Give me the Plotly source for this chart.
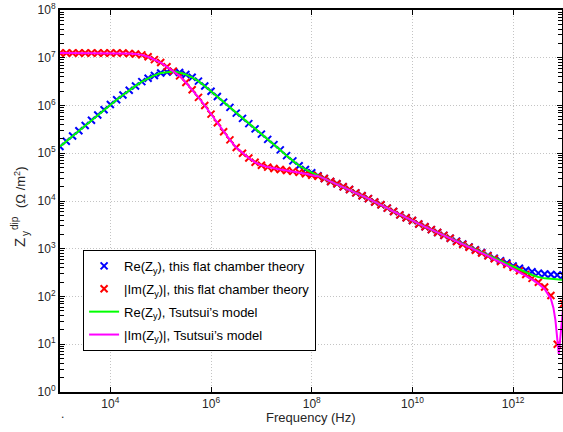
import numpy as np
import plotly.graph_objects as go

# log10 of frequency (Hz) for the marker series
f_exp = [3.0, 3.125, 3.25, 3.375, 3.5, 3.625, 3.75, 3.875,
         4.0, 4.125, 4.25, 4.375, 4.5, 4.625, 4.75, 4.875,
         5.0, 5.125, 5.25, 5.375, 5.5, 5.625, 5.75, 5.875,
         6.0, 6.125, 6.25, 6.375, 6.5, 6.625, 6.75, 6.875,
         7.0, 7.125, 7.25, 7.375, 7.5, 7.625, 7.75, 7.875,
         8.0, 8.125, 8.25, 8.375, 8.5, 8.625, 8.75, 8.875,
         9.0, 9.125, 9.25, 9.375, 9.5, 9.625, 9.75, 9.875,
         10.0, 10.125, 10.25, 10.375, 10.5, 10.625, 10.75, 10.875,
         11.0, 11.125, 11.25, 11.375, 11.5, 11.625, 11.75, 11.875,
         12.0, 12.125, 12.25, 12.375, 12.5, 12.625, 12.75, 12.875, 13.0]

# log10 |Z|
re_theory = [5.14, 5.25, 5.36, 5.47, 5.58, 5.69, 5.80, 5.91,
             6.02, 6.12, 6.22, 6.32, 6.41, 6.50, 6.57, 6.63,
             6.68, 6.70, 6.71, 6.69, 6.65, 6.59, 6.51, 6.41,
             6.30, 6.19, 6.07, 5.96, 5.84, 5.73, 5.62, 5.51,
             5.40, 5.29, 5.18, 5.07, 4.95, 4.84, 4.74, 4.66,
             4.59, 4.53, 4.47, 4.41, 4.36, 4.30, 4.24, 4.17,
             4.11, 4.05, 3.98, 3.92, 3.85, 3.78, 3.71, 3.65,
             3.59, 3.52, 3.46, 3.40, 3.34, 3.28, 3.22, 3.16,
             3.10, 3.04, 2.98, 2.92, 2.86, 2.80, 2.75, 2.70,
             2.64, 2.59, 2.55, 2.52, 2.49, 2.47, 2.46, 2.45, 2.44]

im_theory = [7.10, 7.10, 7.10, 7.10, 7.10, 7.10, 7.10, 7.10,
             7.10, 7.10, 7.10, 7.09, 7.08, 7.06, 7.02, 6.96,
             6.90, 6.81, 6.72, 6.62, 6.48, 6.33, 6.17, 6.00,
             5.82, 5.64, 5.45, 5.28, 5.12, 5.00, 4.90, 4.81,
             4.75, 4.71, 4.68, 4.66, 4.64, 4.62, 4.60, 4.57,
             4.54, 4.52, 4.47, 4.41, 4.36, 4.30, 4.24, 4.17,
             4.11, 4.05, 3.98, 3.92, 3.85, 3.78, 3.71, 3.65,
             3.59, 3.52, 3.46, 3.40, 3.34, 3.28, 3.22, 3.15,
             3.09, 3.03, 2.97, 2.91, 2.85, 2.79, 2.73, 2.67,
             2.61, 2.54, 2.46, 2.38, 2.30, 2.20, 2.02, 1.00, 1.85]

re_tsutsui = [5.14, 5.25, 5.36, 5.47, 5.58, 5.69, 5.80, 5.91,
              6.02, 6.12, 6.22, 6.32, 6.41, 6.50, 6.57, 6.63,
              6.68, 6.70, 6.71, 6.69, 6.65, 6.59, 6.51, 6.41,
              6.30, 6.19, 6.07, 5.96, 5.84, 5.73, 5.62, 5.51,
              5.40, 5.29, 5.18, 5.07, 4.95, 4.84, 4.74, 4.66,
              4.59, 4.53, 4.47, 4.41, 4.36, 4.30, 4.24, 4.17,
              4.11, 4.05, 3.98, 3.92, 3.85, 3.78, 3.71, 3.65,
              3.59, 3.52, 3.46, 3.40, 3.34, 3.28, 3.22, 3.16,
              3.10, 3.04, 2.98, 2.92, 2.86, 2.80, 2.74, 2.68,
              2.62, 2.56, 2.50, 2.45, 2.41, 2.38, 2.37, 2.36, 2.35]

# Tsutsui |Im| needs extra points around the dip
f_exp_im_ts = f_exp[:79] + [12.8, 12.84, 12.87, 12.89, 12.905, 12.92, 12.94, 12.97, 13.0]
im_tsutsui = [7.10, 7.10, 7.10, 7.10, 7.10, 7.10, 7.10, 7.10,
              7.10, 7.10, 7.10, 7.09, 7.08, 7.06, 7.02, 6.96,
              6.90, 6.81, 6.72, 6.62, 6.48, 6.33, 6.17, 6.00,
              5.82, 5.64, 5.45, 5.28, 5.12, 5.00, 4.90, 4.81,
              4.75, 4.71, 4.68, 4.66, 4.64, 4.62, 4.60, 4.57,
              4.54, 4.52, 4.47, 4.41, 4.36, 4.30, 4.24, 4.17,
              4.11, 4.05, 3.98, 3.92, 3.85, 3.78, 3.71, 3.65,
              3.59, 3.52, 3.46, 3.40, 3.34, 3.28, 3.22, 3.15,
              3.09, 3.03, 2.97, 2.91, 2.85, 2.78, 2.72, 2.65,
              2.58, 2.51, 2.44, 2.36, 2.27, 2.16, 1.95,
              1.76, 1.50, 1.20, 0.95, 0.80, 0.95, 1.20, 1.58, 1.85]

x_tick_exp = [4, 6, 8, 10, 12]
y_tick_exp = [0, 1, 2, 3, 4, 5, 6, 7, 8]

freq = 10 ** np.array(f_exp)
freq_ts = 10 ** np.array(f_exp_im_ts)

FONT = 'Liberation Sans, Arial, sans-serif'
TXT = '#262626'

fig = go.Figure()
fig.add_trace(go.Scatter(x=freq, y=10 ** np.array(re_theory), mode='markers',
                         name='Re(Z<sub>y</sub>), this flat chamber theory', legendgroup='a',
                         marker=dict(symbol='x-thin', size=7, color='#0000ff',
                                     line=dict(width=2, color='#0000ff'))))
fig.add_trace(go.Scatter(x=freq, y=10 ** np.array(im_theory), mode='markers',
                         name='|Im(Z<sub>y</sub>)|, this flat chamber theory', legendgroup='b',
                         marker=dict(symbol='x-thin', size=7, color='#ff0000',
                                     line=dict(width=2, color='#ff0000'))))
fig.add_trace(go.Scatter(x=freq, y=10 ** np.array(re_tsutsui), mode='lines',
                         name='Re(Z<sub>y</sub>), Tsutsui\u2019s model', legendgroup='c',
                         line=dict(color='#00ff00', width=2)))
fig.add_trace(go.Scatter(x=freq_ts, y=10 ** np.array(im_tsutsui), mode='lines',
                         name='|Im(Z<sub>y</sub>)|, Tsutsui\u2019s model', legendgroup='d',
                         line=dict(color='#ff00ff', width=2)))

axis_common = dict(showline=True, linecolor='black', linewidth=2, mirror='ticks',
                   ticks='inside', tickcolor='black', ticklen=5, tickwidth=1,
                   showgrid=True, gridcolor='#c4c4c4', griddash='1px,2px', gridwidth=1,
                   zeroline=False, automargin=False,
                   tickfont=dict(family=FONT, size=12, color=TXT))

fig.update_xaxes(type='log', range=[3, 12.97],
                 tickvals=[10 ** e for e in x_tick_exp],
                 ticktext=['10<sup>%d</sup>' % e for e in x_tick_exp],
                 **axis_common)
fig.update_yaxes(type='log', range=[0, 8],
                 tickvals=[10 ** e for e in y_tick_exp],
                 ticktext=['10<sup>%d</sup>' % e for e in y_tick_exp],
                 minor=dict(dtick='D1', ticks='inside', ticklen=4, tickcolor='black',
                            showgrid=False),
                 **axis_common)

# axis titles as annotations (stacked sub/superscript on Z)
def px(xp, yp):
    return (xp - 60) / 502, (392 - yp) / 382

ann = [
    ('Frequency (Hz)', 311, 417, 13, 0),
    ('Z', 19, 243, 15, -90),
    ('dip', 14, 223, 10, -90),
    ('y', 26, 234, 10, -90),
    ('(\u03a9 /m<sup>2</sup>)', 20, 187, 13, -90),
    ('.', 62, 414, 12, 0),
]
for text, xp, yp, size, ang in ann:
    ax_, ay_ = px(xp, yp)
    fig.add_annotation(text=text, xref='paper', yref='paper', x=ax_, y=ay_,
                       xanchor='center', yanchor='middle', textangle=ang,
                       showarrow=False, font=dict(family=FONT, size=size, color=TXT))

fig.update_layout(width=563, height=432,
                  margin=dict(l=60, r=1, t=10, b=40, autoexpand=False),
                  plot_bgcolor='white', paper_bgcolor='white',
                  font=dict(family=FONT, size=12, color='black'),
                  legend=dict(x=0.046, y=0.372, xanchor='left', yanchor='top',
                              bgcolor='white', bordercolor='black', borderwidth=1,
                              font=dict(family=FONT, size=13, color='black'),
                              itemwidth=30, tracegroupgap=3))

# page body has a default 8px margin; drop it so the figure sits at 0,0
fig.write_html("out.html", config={'displayModeBar': False},
               post_script="document.body.style.margin='0';")
